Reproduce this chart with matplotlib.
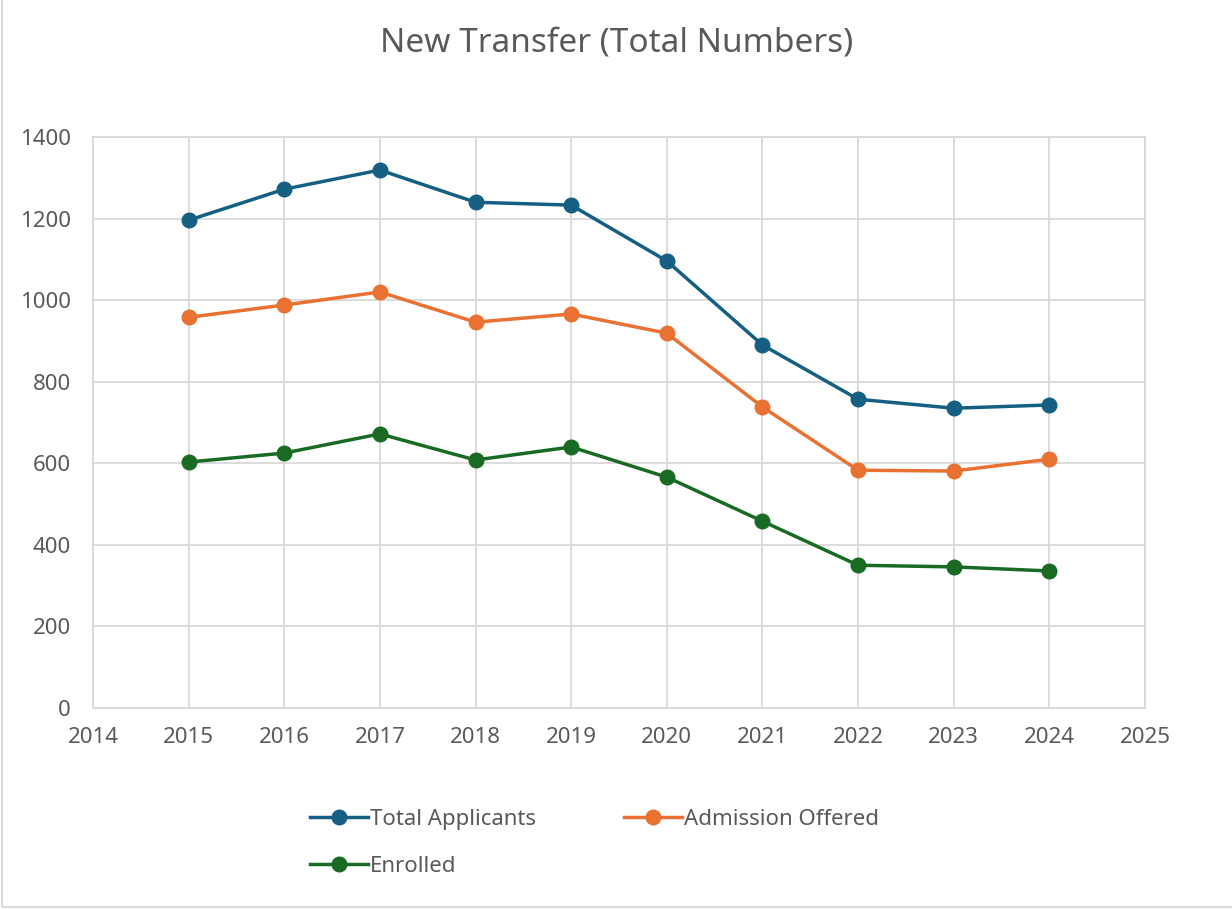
import matplotlib
matplotlib.use("Agg")
import matplotlib.pyplot as plt
from matplotlib.patches import Rectangle

years = [2015, 2016, 2017, 2018, 2019, 2020, 2021, 2022, 2023, 2024]
total_applicants = [1196, 1272, 1319, 1240, 1233, 1096, 890, 757, 735, 743]
admission_offered = [958, 988, 1020, 946, 966, 919, 738, 583, 581, 610]
enrolled = [603, 625, 672, 608, 640, 566, 458, 350, 346, 336]

series_names = ["Total Applicants", "Admission Offered", "Enrolled"]
colors = ["#156082", "#E97132", "#196B24"]

plt.rcParams['font.family'] = ['Noto Sans', 'DejaVu Sans']
text_color = "#595959"
grid_color = "#D9D9D9"

fig = plt.figure(figsize=(12.32, 9.09), dpi=100)
ax = fig.add_axes([93/1232, 1 - 708/909, (1145-93)/1232, (708-137)/909])

for vals, name, c in zip([total_applicants, admission_offered, enrolled], series_names, colors):
    ax.plot(years, vals, color=c, lw=2.5, marker='o', markersize=10.5, label=name, zorder=3)

ax.set_xlim(2014, 2025)
ax.set_ylim(0, 1400)
ax.set_xticks(range(2014, 2026))
ax.set_yticks(range(0, 1401, 200))
ax.grid(True, color=grid_color, lw=1.3, zorder=0)
for s in ax.spines.values():
    s.set_color(grid_color)
    s.set_linewidth(1.3)
ax.tick_params(axis='both', length=0, labelsize=16, colors=text_color)
ax.tick_params(axis='x', pad=14)
ax.tick_params(axis='y', pad=16)

fig.text(617/1232, 1 - 43/909, "New Transfer (Total Numbers)", ha='center', va='center',
         fontsize=24, color=text_color)

handles, labels = ax.get_legend_handles_labels()
order = [0, 2, 1]
leg = fig.legend([handles[i] for i in order], [labels[i] for i in order], ncol=2,
                 loc='upper left', bbox_to_anchor=(290/1232, 1 - 789/909), frameon=False,
                 fontsize=16, labelcolor=text_color, handlelength=2.6,
                 handletextpad=0.1, columnspacing=3.95, labelspacing=1.18)

fig.patches.append(Rectangle((2/1232, 2/909), 1.5, 1.5, transform=fig.transFigure,
                             fill=False, edgecolor=grid_color, lw=1.5))

fig.savefig("out.png", dpi=100, facecolor='white')
